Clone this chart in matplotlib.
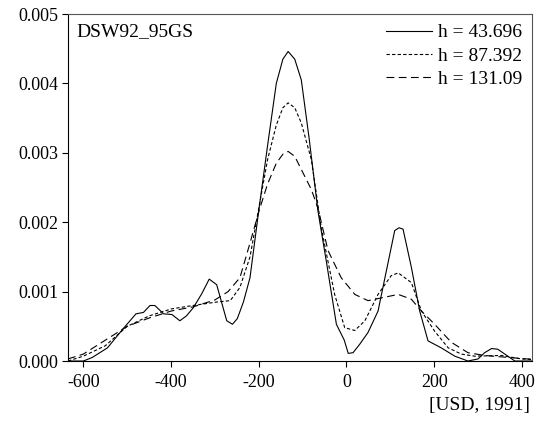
import numpy as np
import matplotlib
matplotlib.use('Agg')
import matplotlib.pyplot as plt
from matplotlib.ticker import FormatStrFormatter

plt.rcParams['font.family'] = ['Liberation Serif', 'DejaVu Serif']
plt.rcParams['axes.unicode_minus'] = False

# kernel density estimates (y in units of 1e-3)
x_h1 = [-635, -600, -580, -545, -510, -480, -463, -448, -437, -417, -398, -380, -365,
        -349, -330, -313, -296, -273, -260, -249, -235, -220, -201, -180, -160, -145,
        -133, -118, -103, -85, -65, -45, -23, -5, 4, 15, 30, 49, 72, 91, 110, 120, 129,
        148, 167, 186, 216, 247, 277, 300, 315, 331, 345, 361, 384, 423]
y_h1 = [0, 0, 0.05, 0.19, 0.46, 0.68, 0.70, 0.80, 0.80, 0.68, 0.67, 0.58, 0.65,
        0.77, 0.97, 1.18, 1.10, 0.58, 0.53, 0.61, 0.85, 1.2, 2.12, 3.1, 4.0, 4.35,
        4.46, 4.35, 4.05, 3.2, 2.16, 1.4, 0.53, 0.30, 0.11, 0.12, 0.24, 0.41, 0.72, 1.3, 1.88, 1.92, 1.90,
        1.35, 0.72, 0.29, 0.19, 0.07, 0.0, 0.03, 0.12, 0.18, 0.17, 0.10, 0.0, 0.0]

x_h2 = [-635, -600, -550, -500, -450, -400, -350, -296, -265, -243, -220, -200, -180,
        -160, -145, -133, -118, -103, -80, -57, -27, -4, 19, 42, 72, 102, 118, 148,
        171, 201, 232, 262, 292, 353, 399, 423]
y_h2 = [0.0, 0.07, 0.22, 0.5, 0.65, 0.75, 0.80, 0.85, 0.87, 1.06, 1.5, 2.2, 2.9,
        3.4, 3.65, 3.72, 3.65, 3.43, 2.9, 1.9, 0.96, 0.48, 0.44, 0.58, 0.96, 1.23, 1.27, 1.13,
        0.72, 0.43, 0.19, 0.10, 0.07, 0.08, 0.03, 0.02]

x_h3 = [-635, -600, -550, -500, -450, -400, -350, -300, -270, -243, -220, -200, -180,
        -160, -145, -133, -118, -103, -80, -65, -42, -12, 19, 49, 80, 118, 148, 171,
        201, 239, 277, 315, 353, 412, 423]
y_h3 = [0.03, 0.1, 0.3, 0.5, 0.62, 0.72, 0.78, 0.88, 1.0, 1.2, 1.7, 2.15, 2.55,
        2.85, 2.98, 3.02, 2.95, 2.76, 2.47, 2.2, 1.59, 1.2, 0.96, 0.87, 0.91, 0.96, 0.89, 0.72,
        0.53, 0.27, 0.12, 0.08, 0.06, 0.03, 0.03]

labels = ['h = 43.696', 'h = 87.392', 'h = 131.09']

fig = plt.figure(figsize=(5.38, 4.22), dpi=100)
ax = fig.add_axes([0.1264, 0.1445, 0.8624, 0.8223])

ax.plot(x_h1, np.array(y_h1) * 1e-3, color='black', lw=0.8, label=labels[0])
ax.plot(x_h2, np.array(y_h2) * 1e-3, color='black', lw=0.8, dashes=(3, 2), label=labels[1])
ax.plot(x_h3, np.array(y_h3) * 1e-3, color='black', lw=0.8, dashes=(7, 4), label=labels[2])

ax.set_xlim(-635, 423)
ax.set_ylim(0, 0.005)
ax.set_xticks([-600, -400, -200, 0, 200, 400])
ax.set_yticks([0, 0.001, 0.002, 0.003, 0.004, 0.005])
ax.yaxis.set_major_formatter(FormatStrFormatter('%.3f'))
ax.tick_params(direction='out', length=4, width=0.8, labelsize=13, pad=3)
ax.tick_params(axis='x', pad=5)

for s in ['top', 'right']:
    ax.spines[s].set_color('#555555')
for s in ax.spines.values():
    s.set_linewidth(0.8)

ax.text(0.017, 0.975, 'DSW92_95GS', transform=ax.transAxes, ha='left', va='top', fontsize=14)
ax.legend(loc='upper right', frameon=False, fontsize=14, handlelength=2.4,
          handletextpad=0.3, labelspacing=0.3, borderaxespad=0.15, borderpad=0.35)

fig.text(0.985, 0.02, '[USD, 1991]', ha='right', va='bottom', fontsize=14)

fig.savefig('out.png', dpi=100)
